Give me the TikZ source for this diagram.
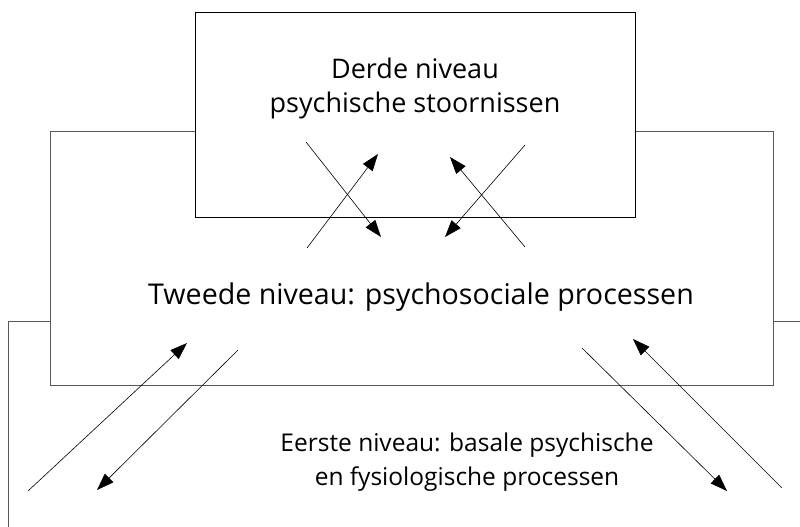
\documentclass[tikz,border=0pt]{standalone}
\usepackage{fontspec}
\setmainfont{Open Sans}
\usetikzlibrary{arrows.meta}

\begin{document}
\begin{tikzpicture}[
  x=1pt, y=-1pt,
  lvl/.style={draw=black!65, line width=0.9pt, fill=white},
  top/.style={draw=black, line width=0.9pt, fill=white},
  arr/.style={line width=0.6pt, -{Triangle[length=17pt, width=12pt]}},
  lbl/.style={align=center}
]
\useasboundingbox (0,0) rectangle (800,527);
\clip (0,0) rectangle (800,527);

% the three levels, drawn from the outside in
\draw [lvl] (8,321) rectangle (840,600);
\draw [lvl] (50,131) rectangle (773,385);
\draw [top] (195,12) rectangle (635,217);

\node [lbl, font=\fontsize{27}{34}\selectfont] (derde) at (415,88)
  {Derde niveau\\psychische stoornissen};
\node [lbl, font=\fontsize{28.6}{34}\selectfont] (tweede) at (421,297)
  {Tweede niveau: psychosociale processen};
\node [lbl, font=\fontsize{24.5}{34}\selectfont] (eerste) at (467,462)
  {Eerste niveau: basale psychische\\en fysiologische processen};

% crossing arrows between second and third level
\coordinate (a1) at (306,142);  \coordinate (a2) at (381,237);
\coordinate (b1) at (307,248);  \coordinate (b2) at (378,154);
\coordinate (c1) at (525,145);  \coordinate (c2) at (445,237);
\coordinate (d1) at (525,247);  \coordinate (d2) at (450,157);
\draw [arr] (a1) -- (a2);
\draw [arr] (b1) -- (b2);
\draw [arr] (c1) -- (c2);
\draw [arr] (d1) -- (d2);

% arrows between first and second level
\coordinate (e1) at (28,491);   \coordinate (e2) at (187,343);
\coordinate (f1) at (238,350);  \coordinate (f2) at (97,490);
\coordinate (g1) at (582,348);  \coordinate (g2) at (727,491);
\coordinate (h1) at (782,488);  \coordinate (h2) at (633,339);
\draw [arr] (e1) -- (e2);
\draw [arr] (f1) -- (f2);
\draw [arr] (g1) -- (g2);
\draw [arr] (h1) -- (h2);
\end{tikzpicture}
\end{document}
